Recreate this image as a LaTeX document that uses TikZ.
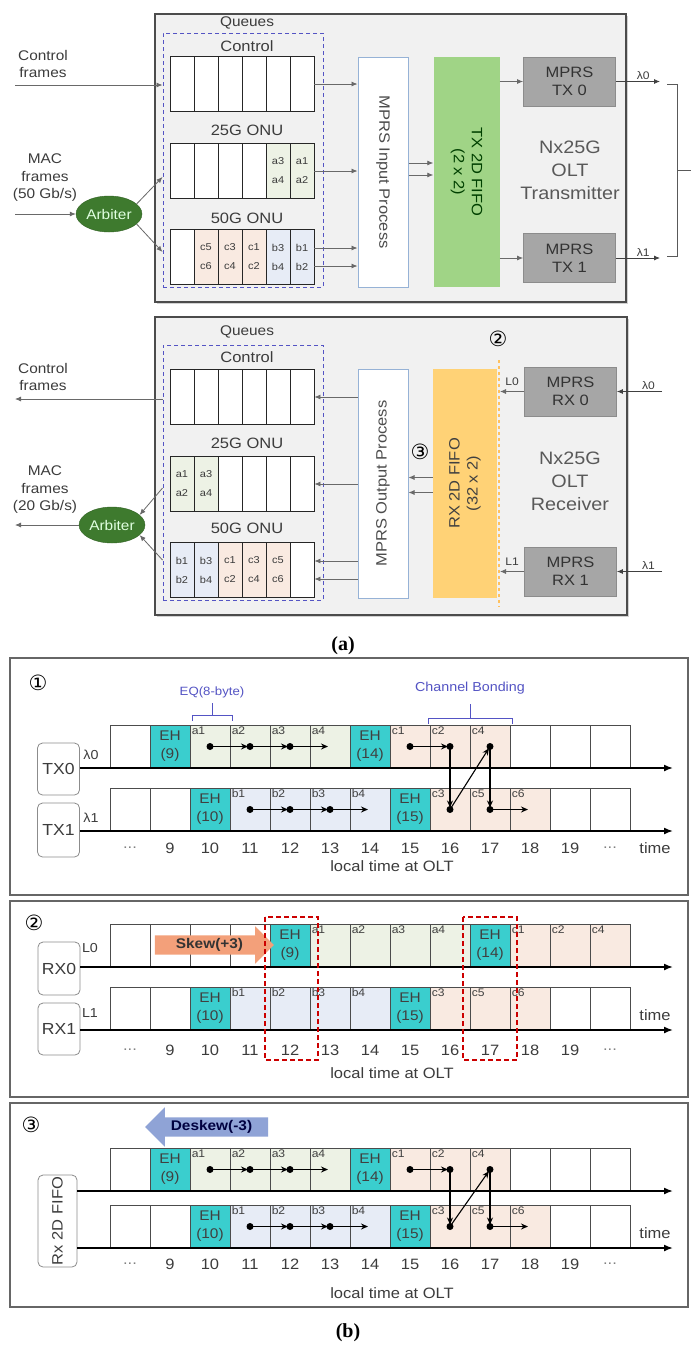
\documentclass[tikz,border=0pt]{standalone}
\usepackage{fontspec}
\setmainfont{Liberation Sans}[FakeStretch=1.1]
\newfontfamily\capfont{Liberation Serif}
\newfontfamily\circfont{DejaVu Sans}
\usetikzlibrary{arrows.meta,positioning,calc,shadows,shapes.geometric,shapes.arrows}

\definecolor{oltgray}{RGB}{241,241,241}
\definecolor{txtgray}{RGB}{60,60,60}
\definecolor{linegray}{RGB}{105,105,105}
\definecolor{mprsgray}{RGB}{166,166,166}
\definecolor{fifogreen}{RGB}{160,212,134}
\definecolor{fifoyellow}{RGB}{255,210,118}
\definecolor{arbgreen}{RGB}{62,122,46}
\definecolor{procblue}{RGB}{150,178,214}
\definecolor{qblue}{RGB}{84,84,196}
\definecolor{ehcyan}{RGB}{58,206,206}
\definecolor{tintgreen}{RGB}{237,242,229}
\definecolor{tintblue}{RGB}{231,236,246}
\definecolor{tintorange}{RGB}{249,234,225}
\definecolor{skeworange}{RGB}{243,160,122}
\definecolor{deskewblue}{RGB}{143,163,214}

\tikzset{
  olt/.style={draw=black!70, line width=1.3pt, fill=oltgray,
    drop shadow={shadow xshift=2pt, shadow yshift=-2pt, opacity=.35}},
  qframe/.style={draw=qblue, line width=1pt, dash pattern=on 4pt off 3pt,
    minimum width=160pt, inner sep=0pt},
  qcell/.style={draw=black!85, line width=.9pt, minimum width=24pt, minimum height=55pt,
    inner sep=0pt, align=center, text=txtgray, font=\fontsize{10}{19}\selectfont},
  qname/.style={text=txtgray, font=\fontsize{15}{17}\selectfont},
  side/.style={text=txtgray, align=center, font=\fontsize{14}{17.5}\selectfont},
  flow/.style={draw=linegray, line width=.8pt, -{Latex[length=6pt,width=5pt]}},
  arb/.style={ellipse, fill=arbgreen, draw=arbgreen!80!black, text=white!88!green,
    minimum width=66pt, minimum height=36pt, inner sep=0pt, font=\fontsize{14}{16}\selectfont},
  proc/.style={draw=procblue, line width=1pt, fill=white, minimum width=50pt, inner sep=0pt},
  fifo/.style={minimum width=66pt, inner sep=0pt},
  vtext/.style={align=center, font=\fontsize{15}{18}\selectfont},
  mprs/.style={draw=black!45, line width=.8pt, fill=mprsgray, minimum width=92pt,
    minimum height=49pt, align=center, text=black!80, font=\fontsize{15}{18}\selectfont},
  oltname/.style={text=black!65, align=center, font=\fontsize{18}{23}\selectfont},
  lam/.style={text=txtgray, font=\fontsize{11}{13}\selectfont, inner sep=1.5pt},
  circ/.style={font=\circfont\fontsize{21}{23}\selectfont, inner sep=0pt},
  panel/.style={draw=black!60, line width=1.5pt, fill=white},
  slot/.style={draw=black!70, line width=.9pt, minimum width=40pt, minimum height=43pt,
    inner sep=0pt, align=center, text=black!75, font=\fontsize{14}{18}\selectfont},
  tag/.style={anchor=north west, inner sep=2pt, text=black!75, font=\fontsize{11}{13}\selectfont},
  timeaxis/.style={draw=black, line width=1.6pt, -{Latex[length=9pt,width=7pt]}},
  unit/.style={draw=black!45, line width=.8pt, rounded corners=5pt, fill=white,
    inner sep=0pt, text=txtgray, font=\fontsize{16}{18}\selectfont},
  tick/.style={text=txtgray, font=\fontsize{15}{17}\selectfont},
  hop/.style={draw=black, line width=1.1pt, -{Stealth[length=7pt,width=6pt]}, shorten >=2pt},
  dotc/.style={fill=black},
  brace/.style={draw=qblue, line width=1pt},
  bracelbl/.style={text=qblue, font=\fontsize{12}{14}\selectfont},
  window/.style={draw=red!80!black, line width=1.4pt, dash pattern=on 5pt off 3pt},
  skewline/.style={draw=black!70, line width=.6pt, double=fifoyellow!80!orange,
    double distance=1.2pt, dashed},
  caption/.style={font=\capfont\bfseries\fontsize{20}{22}\selectfont}
}

% one queue of six cells
\newcommand{\qrow}[4]{%
  \foreach \f/\t [count=\k from 0] in {#4}{
    \node[qcell,fill=\f] (#1\k) at ({#2+12+24*\k},#3) {\t};
  }}
% one row of thirteen time slots
\newcommand{\slotrow}[3]{%
  \foreach \f/\t/\c [count=\k from 0] in #3{
    \node[slot,fill=\f] (#1\k) at ({130+40*\k},#2) {\c};
    \node[tag] (#1tag\k) at (#1\k.north west) {\t};
  }}
\newcommand{\timeticks}[2]{%
  \node[tick,text=gray] (#1d0) at (130,#2) {...};
  \foreach \n in {9,...,19}{\node[tick] (#1n\n) at ({130+40*(\n-8)},#2) {\n};}
  \node[tick,text=gray] (#1d1) at (610,#2) {...};
  }
\newcommand{\hops}[2]{%
  \foreach \i/\j in {2/3,3/4,4/5}{\draw[hop] (#1\i.center) -- (#1\j.center);}
  \foreach \i/\j in {3/4,4/5,5/6}{\draw[hop] (#2\i.center) -- (#2\j.center);}
  \draw[hop] (#17.center) -- (#18.center);
  \draw[hop] (#18.center) -- (#28.center);
  \draw[hop] (#28.center) -- (#19.center);
  \draw[hop] (#19.center) -- (#29.center);
  \draw[hop] (#29.center) -- (#210.center);
  \foreach \c in {#12,#13,#14,#17,#18,#19,#23,#24,#25,#28,#29}{\fill[dotc] (\c.center) circle (3.5pt);}
  }

\newcommand{\toprow}{white/{}/{}, ehcyan/{}/{EH\\(9)}, tintgreen/a1/{}, tintgreen/a2/{},
  tintgreen/a3/{}, tintgreen/a4/{}, ehcyan/{}/{EH\\(14)}, tintorange/c1/{}, tintorange/c2/{},
  tintorange/c4/{}, white/{}/{}, white/{}/{}, white/{}/{}}
\newcommand{\botrow}{white/{}/{}, white/{}/{}, ehcyan/{}/{EH\\(10)}, tintblue/b1/{},
  tintblue/b2/{}, tintblue/b3/{}, tintblue/b4/{}, ehcyan/{}/{EH\\(15)}, tintorange/c3/{},
  tintorange/c5/{}, tintorange/c6/{}, white/{}/{}, white/{}/{}}
\newcommand{\skewrow}{white/{}/{}, white/{}/{}, white/{}/{}, white/{}/{}, ehcyan/{}/{EH\\(9)},
  tintgreen/a1/{}, tintgreen/a2/{}, tintgreen/a3/{}, tintgreen/a4/{}, ehcyan/{}/{EH\\(14)},
  tintorange/c1/{}, tintorange/c2/{}, tintorange/c4/{}}

\begin{document}
\begin{tikzpicture}[x=1pt,y=-1pt]
  \useasboundingbox (0,0) rectangle (691,1345);
  \fill[white] (0,0) rectangle (691,1345);

  %% (a) transmitter
  \draw[olt] (155,14) rectangle (626,302);
  \node[qname,font=\fontsize{14}{16}\selectfont] (tqueues) at (247,23) {Queues};
  \node[qframe,minimum height=254pt] (tq) at (243,160) {};
  \node[qname] (tctl) at (247,46) {Control};
  \node[qname] (t25) at (247,130) {25G ONU};
  \node[qname] (t50) at (247,218) {50G ONU};
  \qrow{tc}{170}{84}{white/{},white/{},white/{},white/{},white/{},white/{}}
  \qrow{ta}{170}{171}{white/{},white/{},white/{},white/{},tintgreen/{a3\\a4},tintgreen/{a1\\a2}}
  \qrow{tb}{170}{257}{white/{},tintorange/{c5\\c6},tintorange/{c3\\c4},tintorange/{c1\\c2},tintblue/{b3\\b4},tintblue/{b1\\b2}}

  \node[side] (tctlin) at (43,64) {Control\\frames};
  \node[side] (tmacin) at (45,178) {MAC\\frames\\(50 Gb/s)};
  \node[arb] (tarb) at (109,214) {Arbiter};
  \coordinate (tctlsrc) at (15,85);
  \coordinate (tmacsrc) at (15,214);
  \draw[flow] (tctlsrc) -- (tctlsrc -| tq.west);
  \draw[flow] (tmacsrc) -- (tarb.west);
  \draw[flow] (tarb.20) -- ($(tq.west |- ta0)+(0,6)$);
  \draw[flow] (tarb.-20) -- ($(tq.west |- tb0)+(0,-5)$);

  \node[proc,minimum height=230pt] (inproc) at (383,172) {};
  \node[vtext,rotate=-90,text=black!70] (inproctxt) at (inproc) {MPRS Input Process};
  \node[fifo,fill=fifogreen,minimum height=230pt] (txfifo) at (466.5,172) {};
  \node[vtext,rotate=-90,text=green!25!black] (txfifotxt) at (txfifo) {TX 2D FIFO\\(2 x 2)};
  \draw[flow] (tc5.east) -- (tc5.east -| inproc.west);
  \draw[flow] (ta5.east) -- (ta5.east -| inproc.west);
  \draw[flow] ($(tb5.east)+(0,-9)$) -- ($(tb5.east -| inproc.west)+(0,-9)$);
  \draw[flow] ($(tb5.east)+(0,9)$) -- ($(tb5.east -| inproc.west)+(0,9)$);
  \draw[flow] ($(inproc.east)+(0,-9)$) -- ($(txfifo.west)+(0,-9)$);
  \draw[flow] ($(inproc.east)+(0,3)$) -- ($(txfifo.west)+(0,3)$);

  \node[mprs] (tx0) at (569.5,81.5) {MPRS\\TX 0};
  \node[mprs] (tx1) at (569.5,258) {MPRS\\TX 1};
  \node[oltname] (txname) at (570,170) {Nx25G\\OLT\\Transmitter};
  \draw[flow] (txfifo.east |- tx0) -- (tx0.west);
  \draw[flow] (txfifo.east |- tx1) -- (tx1.west);
  \coordinate (tlam0) at (660,81.5);
  \coordinate (tlam1) at (660,258);
  \draw[flow,draw=black!75] (tx0.east) -- (tlam0) node[lam,pos=.62,above] (tl0) {λ0};
  \draw[flow,draw=black!75] (tx1.east) -- (tlam1) node[lam,pos=.62,above] (tl1) {λ1};
  \draw[draw=black!65, line width=1pt] (667,84) -- (677,84) -- (677,256) -- (667,256)
    (677,170) -- (691,170);

  %% (a) receiver
  \draw[olt] (155,317) rectangle (627,615);
  \node[qname,font=\fontsize{14}{16}\selectfont] (rqueues) at (247,332) {Queues};
  \node[qframe,minimum height=255pt] (rq) at (243,472.5) {};
  \node[qname] (rctl) at (247,357) {Control};
  \node[qname] (r25) at (247,443) {25G ONU};
  \node[qname] (r50) at (247,528) {50G ONU};
  \qrow{rc}{170}{397}{white/{},white/{},white/{},white/{},white/{},white/{}}
  \qrow{ra}{170}{484}{tintgreen/{a1\\a2},tintgreen/{a3\\a4},white/{},white/{},white/{},white/{}}
  \qrow{rb}{170}{570}{tintblue/{b1\\b2},tintblue/{b3\\b4},tintorange/{c1\\c2},tintorange/{c3\\c4},tintorange/{c5\\c6},white/{}}

  \node[side] (rctlout) at (43,377) {Control\\frames};
  \node[side] (rmacout) at (45,490) {MAC\\frames\\(20 Gb/s)};
  \node[arb] (rarb) at (112,525) {Arbiter};
  \coordinate (rctldst) at (15,399);
  \coordinate (rmacdst) at (15,525);
  \draw[flow] (rctldst -| rq.west) -- (rctldst);
  \draw[flow] (rarb.west) -- (rmacdst);
  \draw[flow] ($(rq.west |- ra0)+(0,4)$) -- (rarb.20);
  \draw[flow] ($(rq.west |- rb0)+(0,-10)$) -- (rarb.-20);

  \node[proc,minimum height=229pt] (outproc) at (383,483.5) {};
  \node[vtext,rotate=90,text=black!70] (outproctxt) at (outproc) {MPRS Output Process};
  \node[fifo,fill=fifoyellow,minimum width=64pt,minimum height=229pt] (rxfifo) at (465,483.5) {};
  \node[vtext,rotate=90,text=black!75] (rxfifotxt) at (rxfifo) {RX 2D FIFO\\(32 x 2)};
  \draw[flow] (outproc.west |- rc5) -- (rc5.east);
  \draw[flow] (outproc.west |- ra5) -- (ra5.east);
  \draw[flow] ($(outproc.west |- rb5)+(0,-9)$) -- ($(rb5.east)+(0,-9)$);
  \draw[flow] ($(outproc.west |- rb5)+(0,9)$) -- ($(rb5.east)+(0,9)$);
  \draw[flow] ($(rxfifo.west)+(0,-6)$) -- ($(outproc.east)+(0,-6)$);
  \draw[flow] ($(rxfifo.west)+(0,9)$) -- ($(outproc.east)+(0,9)$);
  \node[circ] (c3a) at (420,452) {③};

  \node[mprs] (rx0) at (570.5,391.5) {MPRS\\RX 0};
  \node[mprs] (rx1) at (570.5,571.5) {MPRS\\RX 1};
  \node[oltname] (rxname) at (570,481) {Nx25G\\OLT\\Receiver};
  \draw[skewline] (499,360) -- (499,607);
  \node[circ] (c2a) at (498,339) {②};
  \coordinate (rl0) at (500,391.5);
  \coordinate (rl1) at (500,571.5);
  \coordinate (rlam0) at (662,391.5);
  \coordinate (rlam1) at (662,571.5);
  \draw[flow,draw=black!75] (rlam0) -- (rx0.east) node[lam,pos=.3,above] (rll0) {λ0};
  \draw[flow,draw=black!75] (rlam1) -- (rx1.east) node[lam,pos=.3,above] (rll1) {λ1};
  \draw[flow] (rx0.west) -- (rl0) node[lam,pos=.5,above=4pt] (rL0) {L0};
  \draw[flow] (rx1.west) -- (rl1) node[lam,pos=.5,above=4pt] (rL1) {L1};
  \node[caption] (capa) at (343,646) {(a)};

  %% (b) panel 1: transmit side
  \draw[panel] (10,658) rectangle (688,895);
  \node[circ] (c1b) at (38,683) {①};
  \node[bracelbl] (eq) at (212,692) {EQ(8-byte)};
  \draw[brace] (192,721) -- (192,715) -- (232,715) -- (232,721) (212,715) -- (212,703);
  \node[bracelbl,font=\fontsize{13}{15}\selectfont] (cb) at (470,688) {Channel Bonding};
  \draw[brace] (428,724) -- (428,718) -- (512,718) -- (512,724) (470,718) -- (470,704);
  \slotrow{p1t}{746.5}{\toprow}
  \slotrow{p1b}{809.5}{\botrow}
  \node[unit,minimum width=42pt,minimum height=52pt] (utx0) at (58.5,769) {TX0};
  \node[unit,minimum width=42pt,minimum height=54pt] (utx1) at (58.5,830) {TX1};
  \node[lam,font=\fontsize{13}{15}\selectfont] (p1l0) at (91,755) {λ0};
  \node[lam,font=\fontsize{13}{15}\selectfont] (p1l1) at (91,818) {λ1};
  \coordinate (p1e0) at (673,768);
  \coordinate (p1e1) at (673,831);
  \draw[timeaxis] (utx0.east |- p1e0) -- (p1e0);
  \draw[timeaxis] (utx1.east |- p1e1) -- (p1e1);
  \hops{p1t}{p1b}
  \timeticks{p1}{848}
  \node[tick] (p1time) at (655,848) {time};
  \node[tick] (p1olt) at (392,866) {local time at OLT};

  %% (b) panel 2: receive side
  \draw[panel] (10,901) rectangle (688,1097);
  \node[circ] (c2b) at (34,923) {②};
  \slotrow{p2t}{945.5}{\skewrow}
  \slotrow{p2b}{1008.5}{\botrow}
  \node[unit,minimum width=42pt,minimum height=53pt] (urx0) at (59,968.5) {RX0};
  \node[unit,minimum width=42pt,minimum height=52pt] (urx1) at (59,1029) {RX1};
  \node[lam,font=\fontsize{13}{15}\selectfont] (p2l0) at (90,948) {L0};
  \node[lam,font=\fontsize{13}{15}\selectfont] (p2l1) at (90,1013) {L1};
  \coordinate (p2e0) at (673,967);
  \coordinate (p2e1) at (673,1030);
  \draw[timeaxis] (urx0.east |- p2e0) -- (p2e0);
  \draw[timeaxis] (urx1.east |- p2e1) -- (p2e1);
  \node[single arrow, fill=skeworange, minimum height=119pt, single arrow head extend=9pt,
    inner xsep=3pt, inner ysep=3pt, text=black!80,
    font=\bfseries\fontsize{14}{16}\selectfont] (skew) at (209.5,945) {Skew(+3)};
  \draw[window] (265,917) rectangle (318,1060);
  \draw[window] (463,917) rectangle (517,1060);
  \timeticks{p2}{1050}
  \node[tick] (p2time) at (655,1015) {time};
  \node[tick] (p2olt) at (392,1073) {local time at OLT};

  %% (b) panel 3: after deskew
  \draw[panel] (10,1103) rectangle (688,1307);
  \node[circ] (c3b) at (31,1125) {③};
  \slotrow{p3t}{1169.5}{\toprow}
  \slotrow{p3b}{1226.5}{\botrow}
  \node[unit,rotate=90,minimum width=92pt,minimum height=39pt,font=\fontsize{15}{17}\selectfont]
    (urx) at (57.5,1221) {Rx 2D FIFO};
  \coordinate (p3e0) at (673,1191);
  \coordinate (p3e1) at (673,1248);
  \draw[timeaxis] (urx.south |- p3e0) -- (p3e0);
  \draw[timeaxis] (urx.south |- p3e1) -- (p3e1);
  \node[single arrow, shape border rotate=180, fill=deskewblue, minimum height=123pt,
    single arrow head extend=10pt, inner xsep=3pt, inner ysep=3pt, text=blue!25!black,
    font=\bfseries\fontsize{14}{16}\selectfont] (deskew) at (211.5,1127) {Deskew(-3)};
  \hops{p3t}{p3b}
  \timeticks{p3}{1264}
  \node[tick] (p3time) at (655,1233) {time};
  \node[tick] (p3olt) at (392,1293) {local time at OLT};
  \node[caption] (capb) at (348,1333) {(b)};
\end{tikzpicture}
\end{document}
